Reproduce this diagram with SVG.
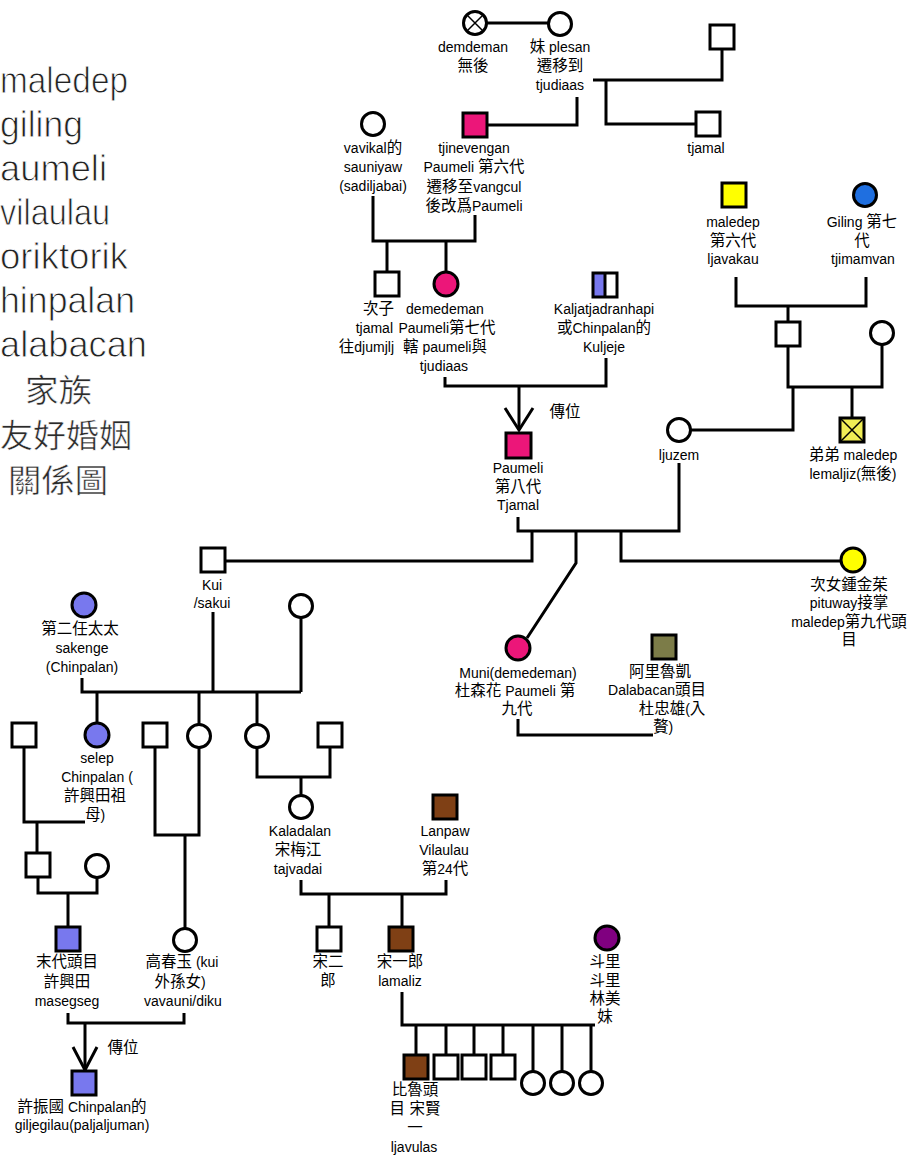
<svg xmlns="http://www.w3.org/2000/svg" width="911" height="1162" viewBox="0 0 911 1162">
<style>
.ln{fill:none;stroke:#000;stroke-width:3;stroke-linejoin:miter}
.sh{stroke:#000;stroke-width:3}
.th{fill:none;stroke:#000;stroke-width:1.5}
.w{fill:#fff}
.pk{fill:#ec1679}
.yl{fill:#ffff00}
.yx{fill:#f0ee55}
.bl{fill:#1f6fe0}
.lv{fill:#7878ee}
.ol{fill:#7c7c48}
.br{fill:#7f4015}
.pu{fill:#800080}
.t{font-family:"Liberation Sans","Noto Sans CJK TC","Noto Sans CJK SC",sans-serif;font-size:14px;fill:#000;text-anchor:middle}
.c{font-size:15.5px}
.te{text-anchor:end}
.tl{font-family:"Liberation Sans",Arial,sans-serif;font-size:37px;fill:#222;stroke:#fff;stroke-width:0.9}
.tc{font-family:"Liberation Sans","Noto Sans CJK TC","Noto Sans CJK SC",sans-serif;font-size:32px;fill:#2a2a2a;stroke:#fff;stroke-width:0.5}
</style>
<rect x="0" y="0" width="911" height="1162" fill="#fff"/>

<g id="title">
<text class="tl" x="0" y="93" textLength="128" lengthAdjust="spacingAndGlyphs">maledep</text>
<text class="tl" x="0" y="137" textLength="83" lengthAdjust="spacingAndGlyphs">giling</text>
<text class="tl" x="0" y="181" textLength="107" lengthAdjust="spacingAndGlyphs">aumeli</text>
<text class="tl" x="0" y="225" textLength="110" lengthAdjust="spacingAndGlyphs">vilaulau</text>
<text class="tl" x="0" y="269" textLength="128" lengthAdjust="spacingAndGlyphs">oriktorik</text>
<text class="tl" x="0" y="313" textLength="135" lengthAdjust="spacingAndGlyphs">hinpalan</text>
<text class="tl" x="0" y="357" textLength="147" lengthAdjust="spacingAndGlyphs">alabacan</text>
<text class="tc" x="25" y="402" textLength="67" lengthAdjust="spacingAndGlyphs">家族</text>
<text class="tc" x="0" y="447" textLength="132" lengthAdjust="spacingAndGlyphs">友好婚姻</text>
<text class="tc" x="8" y="492" textLength="100" lengthAdjust="spacingAndGlyphs">關係圖</text>
</g>

<g id="connectors">
<path class="ln" d="M487 23H548"/>
<path class="ln" d="M577 97V125H487"/>
<path class="ln" d="M593 80H722V49"/>
<path class="ln" d="M606 80V124H696"/>
<path class="ln" d="M373 196V241H475V215"/>
<path class="ln" d="M387 241V272M446 241V272"/>
<path class="ln" d="M445 377V386H606V358"/>
<path class="ln" d="M519 386V430"/>
<path class="ln" d="M505 408L519 430L533 408"/>
<path class="ln" d="M736 277V306H866V277"/>
<path class="ln" d="M788 306V322"/>
<path class="ln" d="M788 346V387H882V345"/>
<path class="ln" d="M793 387V430H691"/>
<path class="ln" d="M852 387V418"/>
<path class="ln" d="M518 517V531H679V463"/>
<path class="ln" d="M532 531V561H225"/>
<path class="ln" d="M576 531V563L527 638"/>
<path class="ln" d="M621 531V561H841"/>
<path class="ln" d="M518 719V735H653"/>
<path class="ln" d="M213 612V692M301 618V692M82 678V692H301"/>
<path class="ln" d="M97 692V723M199 692V724M257 692V724"/>
<path class="ln" d="M24 747V822H85M37 822V853"/>
<path class="ln" d="M155 747V835H199V748M185 835V928"/>
<path class="ln" d="M257 748V777H330V747M301 777V795"/>
<path class="ln" d="M38 877V893H97V878M68 893V927"/>
<path class="ln" d="M68 1013V1023H184V1013"/>
<path class="ln" d="M85 1023V1070"/>
<path class="ln" d="M73 1047L85 1070L97 1047"/>
<path class="ln" d="M301 880V894H446V880M329 894V927M402 894V927"/>
<path class="ln" d="M402 992V1025H595"/>
<path class="ln" d="M416 1025V1055M446 1025V1055M474 1025V1055M503 1025V1055M533 1025V1071M562 1025V1071M591 1025V1071"/>
</g>

<g id="n-demdeman">
<circle class="sh w" cx="475" cy="23" r="11.5"/>
<path class="th" d="M467 15L483 31M483 15L467 31"/>
<text class="t"><tspan x="473" y="52">demdeman</tspan><tspan class="c" x="473" y="71">無後</tspan></text>
</g>
<g id="n-plesan">
<circle class="sh w" cx="560" cy="24" r="11.5"/>
<text class="t"><tspan x="560" y="52"><tspan class="c">妹</tspan> plesan</tspan><tspan class="c" x="560" y="71">遷移到</tspan><tspan x="560" y="90">tjudiaas</tspan></text>
</g>
<g id="n-topright">
<rect class="sh w" x="710" y="25" width="24" height="24"/>
</g>
<g id="n-tjamal-top">
<rect class="sh w" x="696" y="112" width="24" height="24"/>
<text class="t" x="706" y="153">tjamal</text>
</g>
<g id="n-vavikal">
<circle class="sh w" cx="373" cy="124" r="11.5"/>
<text class="t"><tspan x="373" y="153">vavikal<tspan class="c">的</tspan></tspan><tspan x="373" y="172">sauniyaw</tspan><tspan x="373" y="191">(sadiljabai)</tspan></text>
</g>
<g id="n-tjinevengan">
<rect class="sh pk" x="463" y="113" width="24" height="24"/>
<text class="t"><tspan x="474" y="153">tjinevengan</tspan><tspan x="474" y="172">Paumeli <tspan class="c">第六代</tspan></tspan><tspan x="474" y="192"><tspan class="c">遷移至</tspan>vangcul</tspan><tspan x="474" y="211"><tspan class="c">後改爲</tspan>Paumeli</tspan></text>
</g>
<g id="n-maledep6">
<rect class="sh yl" x="722" y="183" width="24" height="24"/>
<text class="t"><tspan x="733" y="227">maledep</tspan><tspan class="c" x="733" y="246">第六代</tspan><tspan x="733" y="264">ljavakau</tspan></text>
</g>
<g id="n-giling7">
<circle class="sh bl" cx="865" cy="195" r="11.5"/>
<text class="t"><tspan x="862" y="227">Giling <tspan class="c">第七</tspan></tspan><tspan class="c" x="862" y="246">代</tspan><tspan x="863" y="264">tjimamvan</tspan></text>
</g>
<g id="n-tjamal-second">
<rect class="sh w" x="375" y="272" width="24" height="24"/>
<text class="t te"><tspan class="c" x="394" y="314">次子</tspan><tspan x="393" y="333">tjamal</tspan><tspan x="394" y="352"><tspan class="c">往</tspan>djumjlj</tspan></text>
</g>
<g id="n-demedeman">
<circle class="sh pk" cx="446" cy="284" r="12"/>
<text class="t"><tspan x="445" y="314">demedeman</tspan><tspan x="447" y="333">Paumeli<tspan class="c">第七代</tspan></tspan><tspan x="445" y="352"><tspan class="c">轄</tspan> paumeli<tspan class="c">與</tspan></tspan><tspan x="444" y="371">tjudiaas</tspan></text>
</g>
<g id="n-kuljeje">
<rect x="593" y="273" width="12" height="24" class="lv"/>
<rect x="605" y="273" width="12" height="24" class="w"/>
<rect class="sh" x="593" y="273" width="24" height="24" fill="none"/>
<path class="ln" d="M605 273V297"/>
<text class="t"><tspan x="604" y="314">Kaljatjadranhapi</tspan><tspan x="604" y="333"><tspan class="c">或</tspan>Chinpalan<tspan class="c">的</tspan></tspan><tspan x="604" y="352">Kuljeje</tspan></text>
</g>
<text class="t c" x="565" y="417">傳位</text>
<g id="n-paumeli8">
<rect class="sh pk" x="506" y="433" width="25" height="25"/>
<text class="t"><tspan x="518" y="473">Paumeli</tspan><tspan class="c" x="518" y="492">第八代</tspan><tspan x="518" y="510">Tjamal</tspan></text>
</g>
<g id="n-maledep-son">
<rect class="sh w" x="776" y="322" width="24" height="24"/>
</g>
<g id="n-maledep-wife">
<circle class="sh w" cx="882" cy="333" r="11.5"/>
</g>
<g id="n-ljuzem">
<circle class="sh w" cx="679" cy="430" r="11.5"/>
<text class="t" x="679" y="460">ljuzem</text>
</g>
<g id="n-lemaljiz">
<rect class="sh yx" x="840" y="418" width="24" height="24"/>
<path class="th" d="M841 419L863 441M863 419L841 441"/>
<text class="t"><tspan x="853" y="460"><tspan class="c">弟弟</tspan> maledep</tspan><tspan x="853" y="479">lemaljiz(<tspan class="c">無後</tspan>)</tspan></text>
</g>
<g id="n-kui">
<rect class="sh w" x="201" y="548" width="24" height="24"/>
<text class="t"><tspan x="212" y="590">Kui</tspan><tspan x="212" y="608">/sakui</tspan></text>
</g>
<g id="n-pituway">
<circle class="sh yl" cx="853" cy="560" r="12"/>
<text class="t"><tspan class="c" x="849" y="590">次女鍾金茱</tspan><tspan x="849" y="608">pituway<tspan class="c">接掌</tspan></tspan><tspan x="849" y="627">maledep<tspan class="c">第九代頭</tspan></tspan><tspan class="c" x="849" y="645">目</tspan></text>
</g>
<g id="n-muni">
<circle class="sh pk" cx="518" cy="648" r="12"/>
<text class="t"><tspan x="518" y="678">Muni(demedeman)</tspan><tspan x="515" y="696"><tspan class="c">杜森花</tspan>  Paumeli <tspan class="c">第</tspan></tspan><tspan class="c" x="517" y="714">九代</tspan></text>
</g>
<g id="n-ali">
<rect class="sh ol" x="652" y="635" width="24" height="24"/>
<text class="t"><tspan class="c" x="660" y="677">阿里魯凱</tspan><tspan x="657" y="695">Dalabacan<tspan class="c">頭目</tspan></tspan><tspan x="672" y="714"><tspan class="c">杜忠雄</tspan>(<tspan class="c">入</tspan></tspan><tspan x="663" y="732"><tspan class="c">贅</tspan>)</tspan></text>
</g>
<g id="n-sakenge">
<circle class="sh lv" cx="84" cy="605" r="12"/>
<text class="t"><tspan class="c" x="80" y="634">第二任太太</tspan><tspan x="82" y="653">sakenge</tspan><tspan x="82" y="672">(Chinpalan)</tspan></text>
</g>
<g id="n-kui-wife">
<circle class="sh w" cx="301" cy="606" r="11.5"/>
</g>
<g id="n-left-square">
<rect class="sh w" x="12" y="723" width="24" height="24"/>
</g>
<g id="n-selep">
<circle class="sh lv" cx="97" cy="735" r="12"/>
<text class="t"><tspan x="97" y="763">selep</tspan><tspan x="97" y="782">Chinpalan (</tspan><tspan class="c" x="95" y="801">許興田祖</tspan><tspan x="95" y="820"><tspan class="c">母</tspan>)</tspan></text>
</g>
<g id="n-square-155">
<rect class="sh w" x="143" y="723" width="24" height="24"/>
</g>
<g id="n-circle-199">
<circle class="sh w" cx="199" cy="736" r="11.5"/>
</g>
<g id="n-circle-257">
<circle class="sh w" cx="257" cy="736" r="11.5"/>
</g>
<g id="n-square-330">
<rect class="sh w" x="318" y="723" width="24" height="24"/>
</g>
<g id="n-square-38">
<rect class="sh w" x="26" y="853" width="24" height="24"/>
</g>
<g id="n-circle-97">
<circle class="sh w" cx="97" cy="866" r="11.5"/>
</g>
<g id="n-xu-xingtian">
<rect class="sh lv" x="56" y="927" width="24" height="24"/>
<text class="t"><tspan class="c" x="67" y="967">末代頭目</tspan><tspan class="c" x="67" y="987">許興田</tspan><tspan x="67" y="1006">masegseg</tspan></text>
</g>
<g id="n-gao">
<circle class="sh w" cx="185" cy="940" r="11.5"/>
<text class="t"><tspan x="182" y="967"><tspan class="c">高春玉</tspan> (kui</tspan><tspan x="180" y="987"><tspan class="c">外孫女</tspan>)</tspan><tspan x="183" y="1006">vavauni/diku</tspan></text>
</g>
<text class="t c" x="123" y="1053">傳位</text>
<g id="n-xu-zhenguo">
<rect class="sh lv" x="72" y="1071" width="24" height="24"/>
<text class="t"><tspan x="82" y="1112"><tspan class="c">許振國</tspan> Chinpalan<tspan class="c">的</tspan></tspan><tspan x="82" y="1130">giljegilau(paljaljuman)</tspan></text>
</g>
<g id="n-kaladalan">
<circle class="sh w" cx="301" cy="807" r="11.5"/>
<text class="t"><tspan x="300" y="836">Kaladalan</tspan><tspan class="c" x="298" y="855">宋梅江</tspan><tspan x="298" y="874">tajvadai</tspan></text>
</g>
<g id="n-lanpaw">
<rect class="sh br" x="433" y="795" width="24" height="24"/>
<text class="t"><tspan x="445" y="836">Lanpaw</tspan><tspan x="444" y="855">Vilaulau</tspan><tspan x="445" y="874"><tspan class="c">第</tspan>24<tspan class="c">代</tspan></tspan></text>
</g>
<g id="n-song2">
<rect class="sh w" x="317" y="927" width="24" height="24"/>
<text class="t c"><tspan x="328" y="967">宋二</tspan><tspan x="328" y="986">郎</tspan></text>
</g>
<g id="n-song1">
<rect class="sh br" x="389" y="927" width="24" height="24"/>
<text class="t"><tspan class="c" x="400" y="967">宋一郎</tspan><tspan x="400" y="986">lamaliz</tspan></text>
</g>
<g id="n-douli">
<circle class="sh pu" cx="607" cy="938" r="12"/>
<text class="t c"><tspan x="605" y="967">斗里</tspan><tspan x="605" y="986">斗里</tspan><tspan x="605" y="1004">林美</tspan><tspan x="605" y="1022">妹</tspan></text>
</g>
<g id="n-song-xian">
<rect class="sh br" x="404" y="1055" width="24" height="24"/>
<text class="t"><tspan class="c" x="415" y="1095">比魯頭</tspan><tspan class="c" x="415" y="1114">目 宋賢</tspan><tspan class="c" x="415" y="1133">一</tspan><tspan x="414" y="1152">ljavulas</tspan></text>
</g>
<g id="n-child-2"><rect class="sh w" x="434" y="1055" width="24" height="24"/></g>
<g id="n-child-3"><rect class="sh w" x="462" y="1055" width="24" height="24"/></g>
<g id="n-child-4"><rect class="sh w" x="491" y="1055" width="24" height="24"/></g>
<g id="n-child-5"><circle class="sh w" cx="533" cy="1083" r="11.5"/></g>
<g id="n-child-6"><circle class="sh w" cx="562" cy="1083" r="11.5"/></g>
<g id="n-child-7"><circle class="sh w" cx="591" cy="1083" r="11.5"/></g>
</svg>
